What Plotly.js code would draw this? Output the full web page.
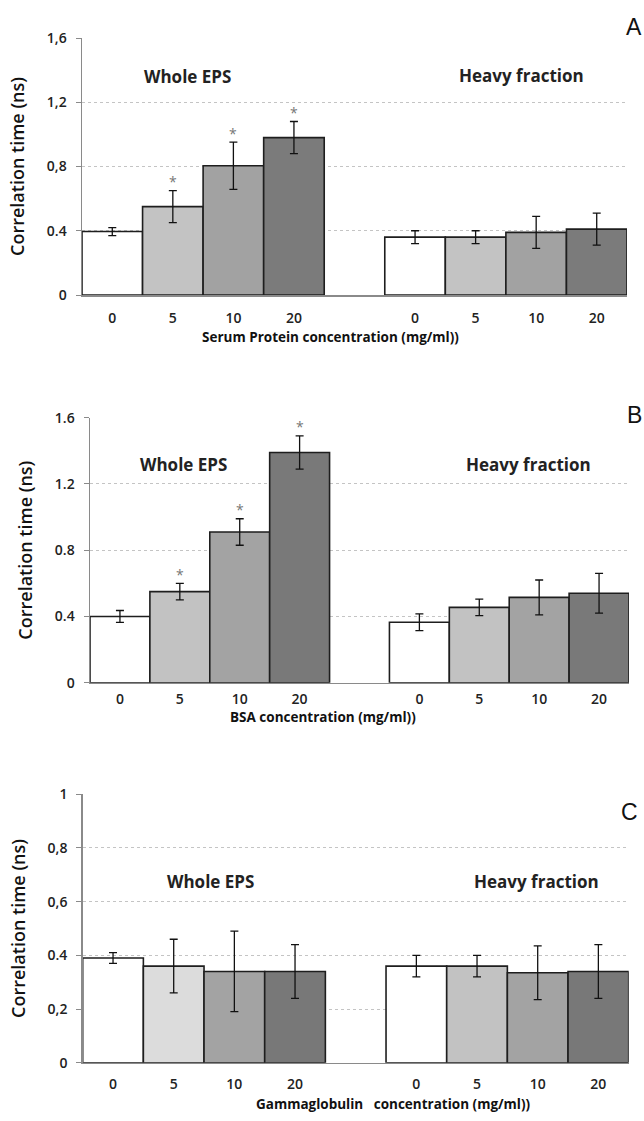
<!DOCTYPE html>
<html><head><meta charset="utf-8">
<script src="https://cdn.plot.ly/plotly-3.0.1.min.js"></script>
<style>html,body{margin:0;padding:0;background:#fff}</style>
</head><body><div id="chart" style="width:644px;height:1121px"></div>
<script>
// ---------------- data ----------------
const concentrations = ["0", "5", "10", "20"];
const groupNames = ["Whole EPS", "Heavy fraction"];
const panelLetters = ["A", "B", "C"];
const xTitles = ["Serum Protein concentration (mg/ml))", "BSA concentration (mg/ml))", "Gammaglobulin   concentration (mg/ml))"];
const yTitle = "Correlation time (ns)";

const wholeA = [0.395, 0.55, 0.805, 0.98];
const wholeErrA = [0.025, 0.10, 0.147, 0.10];
const heavyA = [0.36, 0.36, 0.39, 0.41];
const heavyErrA = [0.04, 0.04, 0.10, 0.10];
const sigA = [false, true, true, true];

const wholeB = [0.40, 0.55, 0.91, 1.39];
const wholeErrB = [0.036, 0.05, 0.08, 0.10];
const heavyB = [0.365, 0.455, 0.515, 0.54];
const heavyErrB = [0.05, 0.05, 0.105, 0.12];
const sigB = [false, true, true, true];

const wholeC = [0.39, 0.36, 0.34, 0.34];
const wholeErrC = [0.02, 0.10, 0.15, 0.10];
const heavyC = [0.36, 0.36, 0.335, 0.34];
const heavyErrC = [0.04, 0.04, 0.10, 0.10];
const sigC = [false, false, false, false];

const yTickValsAB = [0, 0.4, 0.8, 1.2, 1.6];
const yTickTextA = ["0", "0.4", "0,8", "1,2", "1,6"];
const yTickTextB = ["0", "0.4", "0.8", "1.2", "1.6"];
const yTickValsC = [0, 0.2, 0.4, 0.6, 0.8, 1];
const yTickTextC = ["0", "0,2", "0.4", "0,6", "0,8", "1"];

// ---------------- styles / layout ----------------
const W = 644, H = 1121;
const FONT = "Open Sans, Liberation Sans, sans-serif";
const px = x => x / W;
const py = y => 1 - y / H;

const panels = [
  {whole: wholeA, wErr: wholeErrA, heavy: heavyA, hErr: heavyErrA, sig: sigA,
   tv: yTickValsAB, tt: yTickTextA, yr: [0, 1.6],
   left: 82, right: 627, top: 38, bottom: 295,
   colW: ["#ffffff", "#c3c3c3", "#a2a2a2", "#7b7b7b"], colH: ["#ffffff", "#c3c3c3", "#a2a2a2", "#7b7b7b"],
   wLab: [187, 76], hLab: [521, 75], xt: [330, 337], let: [634, 27], xso: 10},
  {whole: wholeB, wErr: wholeErrB, heavy: heavyB, hErr: heavyErrB, sig: sigB,
   tv: yTickValsAB, tt: yTickTextB, yr: [0, 1.6],
   left: 90, right: 629, top: 417.7, bottom: 682.7,
   colW: ["#ffffff", "#c2c2c2", "#a3a3a3", "#797979"], colH: ["#ffffff", "#c2c2c2", "#a3a3a3", "#797979"],
   wLab: [183, 464], hLab: [528, 464], xt: [323, 717], let: [634, 415], xso: 3},
  {whole: wholeC, wErr: wholeErrC, heavy: heavyC, hErr: heavyErrC, sig: sigC,
   tv: yTickValsC, tt: yTickTextC, yr: [0, 1],
   left: 82.7, right: 628.7, top: 794.3, bottom: 1062.7,
   colW: ["#ffffff", "#dcdcdc", "#a3a3a3", "#787878"], colH: ["#ffffff", "#c2c2c2", "#a3a3a3", "#787878"],
   wLab: [210, 881], hLab: [536, 881], xt: [393, 1104], let: [629, 812], xso: 8}
];

const traces = [];
const annotations = [];
const layout = {
  width: W, height: H,
  margin: {l: 0, r: 0, t: 0, b: 0},
  paper_bgcolor: "#ffffff", plot_bgcolor: "#ffffff",
  showlegend: false,
  font: {family: FONT, color: "#222"},
  bargap: 0
};

panels.forEach((p, k) => {
  const s = k === 0 ? "" : String(k + 1);
  const xa = "x" + s, ya = "y" + s;
  const wholeX = concentrations.map((c, i) => i);
  const heavyX = concentrations.map((c, i) => i + concentrations.length + 1);
  [[p.whole, p.wErr, wholeX, p.colW, groupNames[0]], [p.heavy, p.hErr, heavyX, p.colH, groupNames[1]]].forEach(g => {
    traces.push({
      type: "bar", x: g[2], y: g[0], width: 1, name: g[4],
      xaxis: xa, yaxis: ya,
      marker: {color: g[3], line: {color: "#1e1e1e", width: 1.6}},
      error_y: {type: "data", array: g[1], visible: true, color: "#111", thickness: 1.3, width: 4},
      hoverinfo: "skip"
    });
  });
  p.sig.forEach((on, i) => {
    if (!on) return;
    annotations.push({xref: xa, yref: ya, x: wholeX[i], y: p.whole[i] + p.wErr[i], text: "*",
      showarrow: false, yshift: 9, font: {size: 14, color: "#777", family: FONT}});
  });
  layout["xaxis" + s] = {
    domain: [px(p.left), px(p.right)], anchor: ya, range: [-0.5, 8.5],
    tickvals: wholeX.concat(heavyX), ticktext: concentrations.concat(concentrations),
    ticks: "", ticklabelstandoff: p.xso, showgrid: false, zeroline: false,
    showline: true, linecolor: "#8a8a8a", linewidth: 1.5,
    tickfont: {size: 14, family: FONT, weight: 600, color: "#222"}, fixedrange: true
  };
  layout["yaxis" + s] = {
    domain: [py(p.bottom), py(p.top)], anchor: xa, range: p.yr,
    tickvals: p.tv, ticktext: p.tt, ticks: "outside", ticklen: 5, tickcolor: "#8a8a8a", tickwidth: 1,
    ticklabelstandoff: 6,
    showgrid: true, gridcolor: "#c4c4c4", griddash: "dot", gridwidth: 1, zeroline: false,
    showline: true, linecolor: "#8a8a8a", linewidth: 1.5,
    tickfont: {size: 14, family: FONT, weight: 600, color: "#222"},
    title: {text: yTitle, font: {size: 18, family: FONT, weight: 600, color: "#111"}, standoff: 17},
    fixedrange: true
  };
  annotations.push({xref: "paper", yref: "paper", x: px(p.wLab[0]), y: py(p.wLab[1]), text: groupNames[0],
    showarrow: false, xanchor: "center", yanchor: "middle", font: {size: 17, family: FONT, weight: 700, color: "#222"}});
  annotations.push({xref: "paper", yref: "paper", x: px(p.hLab[0]), y: py(p.hLab[1]), text: groupNames[1],
    showarrow: false, xanchor: "center", yanchor: "middle", font: {size: 17, family: FONT, weight: 700, color: "#222"}});
  annotations.push({xref: "paper", yref: "paper", x: px(p.xt[0]), y: py(p.xt[1]), text: xTitles[k],
    showarrow: false, xanchor: "center", yanchor: "middle", font: {size: 13.5, family: FONT, weight: 700, color: "#111"}});
  annotations.push({xref: "paper", yref: "paper", x: px(p.let[0]), y: py(p.let[1]), text: panelLetters[k],
    showarrow: false, xanchor: "center", yanchor: "middle", font: {size: 23, family: "Liberation Sans, Arial, sans-serif", color: "#111"}});
});
layout.annotations = annotations;

Plotly.newPlot("chart", traces, layout, {displayModeBar: false, staticPlot: true});
</script></body></html>
